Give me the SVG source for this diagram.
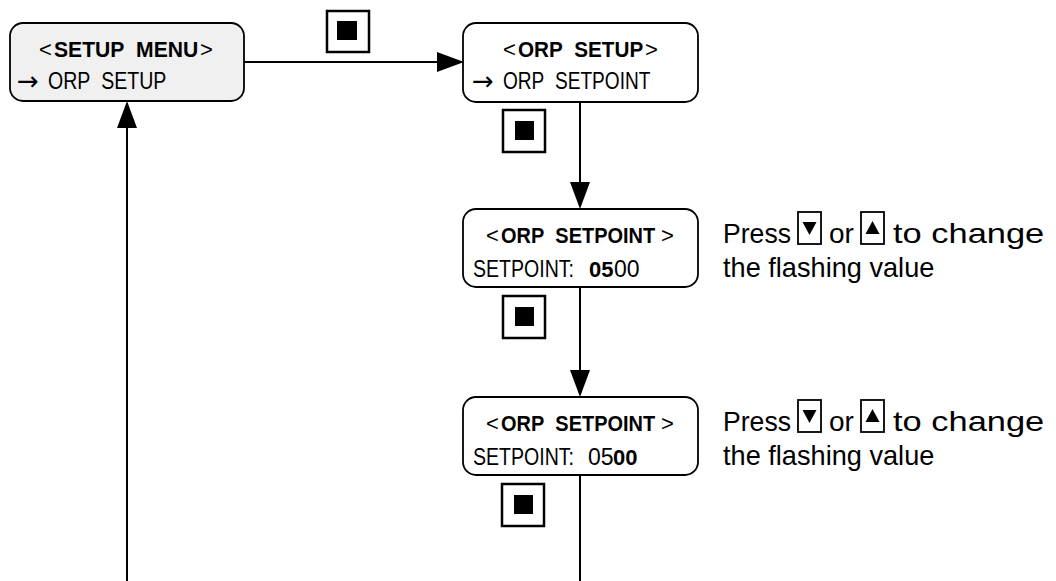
<svg xmlns="http://www.w3.org/2000/svg" width="1056" height="581" viewBox="0 0 1056 581">
<defs>
<style>
.box{fill:#fff;stroke:#000;stroke-width:1.8}
.gray{fill:#f0f0f0}
.ln{stroke:#000;stroke-width:2;fill:none}
.ah{fill:#000}
.t1{font-family:"Liberation Sans",Arial,sans-serif;font-size:22px;font-weight:bold;fill:#000}
.t2{font-family:"Liberation Sans",Arial,sans-serif;font-size:23px;fill:#000}
.n{font-weight:normal}
.arr{font-family:"DejaVu Sans",sans-serif;font-size:26px;fill:#000}
.lab{font-family:"Liberation Sans",Arial,sans-serif;font-size:28px;fill:#000}
.btn{fill:#fff;stroke:#000;stroke-width:2.5}
.sbtn{fill:#fff;stroke:#000;stroke-width:1.8}
</style>
</defs>
<g id="connectors">
<line class="ln" x1="244" y1="62" x2="440" y2="62"/>
<polygon class="ah" points="437,52 464,62 437,72"/>
<line class="ln" x1="580" y1="102" x2="580" y2="185"/>
<polygon class="ah" points="570,182 590,182 580,209"/>
<line class="ln" x1="580" y1="287" x2="580" y2="373"/>
<polygon class="ah" points="570,370 590,370 580,397"/>
<line class="ln" x1="580" y1="475" x2="580" y2="581"/>
<line class="ln" x1="127" y1="581" x2="127" y2="125"/>
<polygon class="ah" points="117,128 137,128 127,101"/>
</g>
<g id="btn-top">
<rect class="btn" x="327" y="11" width="42" height="41"/>
<rect x="337" y="21" width="20" height="19"/>
</g>
<g id="btn-2">
<rect class="btn" x="503" y="110" width="42" height="42"/>
<rect x="515" y="121" width="19" height="19"/>
</g>
<g id="btn-3">
<rect class="btn" x="503" y="296" width="42" height="42"/>
<rect x="515" y="307" width="19" height="19"/>
</g>
<g id="btn-4">
<rect class="btn" x="502" y="484" width="42" height="42"/>
<rect x="514" y="495" width="19" height="19"/>
</g>
<g id="setup-menu">
<rect class="box gray" x="10" y="23" width="234" height="78" rx="13"/>
<text class="t1 n" x="39" y="57">&lt;</text>
<text class="t1" transform="translate(54,57) scale(0.96,1)">SETUP&#160;&#160;MENU</text>
<text class="t1 n" x="200" y="57">&gt;</text>
<text class="arr" x="17" y="90">→</text>
<text class="t2" transform="translate(48,89) scale(0.85,1)">ORP&#160;&#160;SETUP</text>
</g>
<g id="orp-setup">
<rect class="box" x="463" y="23" width="235" height="79" rx="13"/>
<text class="t1 n" x="503" y="57">&lt;</text>
<text class="t1" transform="translate(518,57) scale(0.94,1)">ORP&#160;&#160;SETUP</text>
<text class="t1 n" x="645" y="57">&gt;</text>
<text class="arr" x="472" y="90">→</text>
<text class="t2" transform="translate(503,89) scale(0.83,1)">ORP&#160;&#160;SETPOINT</text>
</g>
<g id="orp-setpoint-1">
<rect class="box" x="463" y="209" width="235" height="78" rx="13"/>
<text class="t1 n" x="486" y="243">&lt;</text>
<text class="t1" transform="translate(501,243) scale(0.908,1)">ORP&#160;&#160;SETPOINT</text>
<text class="t1 n" x="661" y="243">&gt;</text>
<text class="t2" transform="translate(473,277) scale(0.85,1)">SETPOINT:</text>
<text class="t1" x="589" y="277" font-size="23">05</text>
<text class="t2" x="614" y="277">00</text>
</g>
<g id="orp-setpoint-2">
<rect class="box" x="463" y="397" width="235" height="78" rx="13"/>
<text class="t1 n" x="486" y="431">&lt;</text>
<text class="t1" transform="translate(501,431) scale(0.908,1)">ORP&#160;&#160;SETPOINT</text>
<text class="t1 n" x="661" y="431">&gt;</text>
<text class="t2" transform="translate(473,465) scale(0.85,1)">SETPOINT:</text>
<text class="t2" x="588" y="465">05</text>
<text class="t1" x="613" y="465" font-size="23">00</text>
</g>
<g id="note-1">
<text class="lab" transform="translate(723,243) scale(0.95,1)">Press</text>
<rect class="sbtn" x="798" y="212" width="23" height="32"/>
<polygon points="802.5,222 816.5,222 809.5,235"/>
<text class="lab" x="829" y="243">or</text>
<rect class="sbtn" x="861" y="212" width="23" height="32"/>
<polygon points="865.5,234 879.5,234 872.5,221"/>
<text class="lab" transform="translate(893,243) scale(1.23,1)">to change</text>
<text class="lab" transform="translate(723,277) scale(0.97,1)">the flashing value</text>
</g>
<g id="note-2">
<text class="lab" transform="translate(723,431) scale(0.95,1)">Press</text>
<rect class="sbtn" x="798" y="400" width="23" height="32"/>
<polygon points="802.5,410 816.5,410 809.5,423"/>
<text class="lab" x="829" y="431">or</text>
<rect class="sbtn" x="861" y="400" width="23" height="32"/>
<polygon points="865.5,422 879.5,422 872.5,409"/>
<text class="lab" transform="translate(893,431) scale(1.23,1)">to change</text>
<text class="lab" transform="translate(723,465) scale(0.97,1)">the flashing value</text>
</g>
</svg>
